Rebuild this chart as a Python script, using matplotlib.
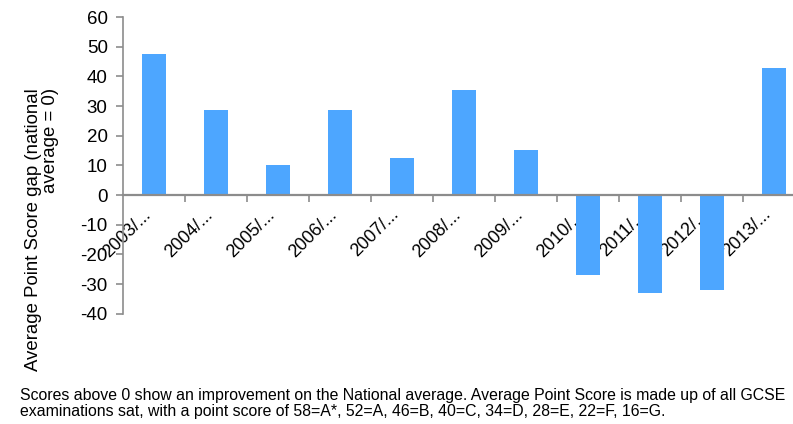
import matplotlib
matplotlib.use("Agg")
import matplotlib.pyplot as plt
import matplotlib.transforms as mtransforms
import numpy as np

plt.rcParams['font.family'] = ['Liberation Sans', 'DejaVu Sans']

years = ["2003/...", "2004/...", "2005/...", "2006/...", "2007/...", "2008/...",
         "2009/...", "2010/...", "2011/...", "2012/...", "2013/..."]
gap = [47.5, 28.6, 10.1, 28.6, 12.5, 35.4, 15.2, -27.0, -33.0, -32.0, 42.8]
yticks = [-40, -30, -20, -10, 0, 10, 20, 30, 40, 50, 60]

bar_color = "#4da6ff"
axis_grey = "#8c8c8c"

fig = plt.figure(figsize=(7.93, 4.24), dpi=100)
ax = fig.add_axes([0.1551, 0.2601, 0.86, 0.6998])

x = np.arange(len(years))
ax.bar(x, gap, width=0.4, color=bar_color, zorder=5)

ax.set_xlim(-0.5, len(years) - 0.5)
ax.set_ylim(-40, 60)
ax.set_yticks(yticks)
ax.set_yticklabels([str(v) for v in yticks], fontsize=13.5)

# bottom spine sits on zero, ticks between categories
ax.spines['bottom'].set_position(('data', 0))
ax.spines['bottom'].set_color(axis_grey)
ax.spines['bottom'].set_linewidth(1.6)
ax.spines['bottom'].set_zorder(6)
ax.spines['left'].set_color(axis_grey)
ax.spines['left'].set_linewidth(1.2)
ax.spines['top'].set_visible(False)
ax.spines['right'].set_visible(False)

ax.set_xticks(x[:-1] + 0.5)
ax.set_xticklabels([])
ax.tick_params(axis='x', which='major', direction='out', length=5, width=1.2, color=axis_grey)
ax.tick_params(axis='y', direction='out', length=5, width=1.2, color=axis_grey, pad=6)

# category labels sit under the bars (bars overlap the negative ones)
shift = mtransforms.ScaledTranslation(-12 / 100, -11 / 100, fig.dpi_scale_trans)
for xi, name in zip(x, years):
    ax.text(xi, 0, name, transform=ax.transData + shift, rotation=45,
            ha='right', va='top', rotation_mode='anchor', fontsize=13,
            zorder=1, clip_on=False)

fig.text(42 / 793, 1 - 88 / 424, "Average Point Score gap (national\naverage = 0)",
         rotation=90, fontsize=13.4, linespacing=1.0, ha='center', va='top',
         multialignment='right')

fig.text(0.025, 0.012,
         "Scores above 0 show an improvement on the National average. Average Point Score is made up of all GCSE\n"
         "examinations sat, with a point score of 58=A*, 52=A, 46=B, 40=C, 34=D, 28=E, 22=F, 16=G.",
         fontsize=11.4, linespacing=1.05, ha='left', va='bottom')

fig.savefig("out.png", dpi=100)
